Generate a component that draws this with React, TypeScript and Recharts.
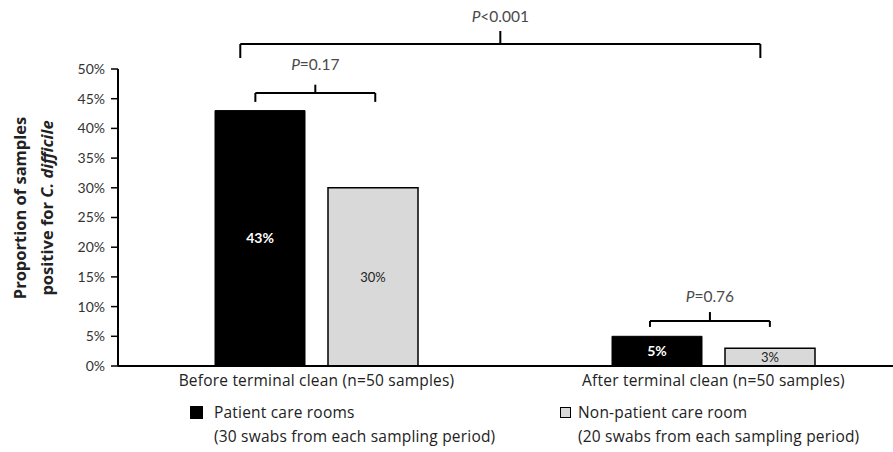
import React from 'react';
import { BarChart, Bar, XAxis, YAxis, ReferenceLine, ReferenceDot, LabelList } from 'recharts';

// values
const categories = ['Before terminal clean (n=50 samples)', 'After terminal clean (n=50 samples)'];
const patientCare = [43, 5];
const nonPatientCare = [30, 3];
const yTicks = [0, 5, 10, 15, 20, 25, 30, 35, 40, 45, 50];

// significance brackets: x as a fraction of the plot width (hidden 0..1 axis), y in %
const bracketText = ['<0.001', '=0.17', '=0.76'];
const bracketX1 = [0.154, 0.173, 0.67];
const bracketX2 = [0.809, 0.324, 0.821];
const bracketY = [54.2, 45.96, 7.58];
const bracketLeg = [2.35, 1.5, 1.0];
const bracketTick = [2.2, 1.4, 1.5];
const bracketTextY = [58.9, 50.8, 11.8];

const FONT = 'Lato, "Open Sans", sans-serif';
const FONT2 = '"Open Sans", Lato, sans-serif';

const data = categories.map((name, i) => ({
  name,
  patient: patientCare[i],
  nonPatient: nonPatientCare[i],
}));

const PLabel = (text: string) => (props: any) => {
  const vb = props.viewBox || {};
  const x = vb.x + (vb.width || 0) / 2;
  const y = vb.y + (vb.height || 0) / 2;
  return (
    <text x={x} y={y} textAnchor="middle" dominantBaseline="central" fontSize={15.5} fill="#4a4a4a" fontFamily={FONT}>
      <tspan fontStyle="italic">P</tspan>
      <tspan>{text}</tspan>
    </text>
  );
};

const YLabel = (props: any) => {
  const vb = props.viewBox || { x: 0, y: 69, height: 297 };
  const x1 = vb.x + 19;
  const x2 = vb.x + 46;
  const cy = 208;
  return (
    <g fontFamily={FONT2} fontSize={16.5} fontWeight="bold" fill="#222">
      <text x={x1} y={cy} textAnchor="middle" dominantBaseline="central" transform={`rotate(-90, ${x1}, ${cy})`}>
        Proportion of samples
      </text>
      <text x={x2} y={cy} textAnchor="middle" dominantBaseline="central" transform={`rotate(-90, ${x2}, ${cy})`}>
        positive for <tspan fontStyle="italic">C. difficile</tspan>
      </text>
    </g>
  );
};

export default function App() {
  return (
    <div style={{ position: 'absolute', left: 0, top: 0, width: 893, height: 452, overflow: 'hidden', background: '#fff', fontFamily: FONT2 }}>
      <BarChart
        width={915}
        height={452}
        data={data}
        margin={{ top: 69, right: 3, left: 0, bottom: 56 }}
        barCategoryGap={97}
        barGap={23}
      >
        <XAxis
          dataKey="name"
          axisLine={{ stroke: '#000', strokeWidth: 2 }}
          tickLine={false}
          interval={0}
          height={30}
          tick={{ fill: '#222', fontSize: 15.5, fontFamily: FONT2, letterSpacing: 0.2, dy: 1 }}
        />
        <XAxis xAxisId="num" type="number" domain={[0, 1]} allowDataOverflow hide />
        <YAxis
          domain={[0, 50]}
          ticks={yTicks}
          tickFormatter={(v: number) => `${v}%`}
          width={118}
          axisLine={{ stroke: '#000', strokeWidth: 2 }}
          tickLine={{ stroke: '#000', strokeWidth: 1.5 }}
          tickSize={7}
          tickMargin={6}
          tick={{ fill: '#333', fontSize: 14, fontFamily: FONT }}
          label={{ content: YLabel }}
        />
        <Bar dataKey="patient" fill="#000" stroke="#000" isAnimationActive={false}>
          <LabelList
            dataKey="patient"
            position="center"
            fill="#fff"
            fontWeight="bold"
            fontSize={14}
            fontFamily={FONT}
            formatter={(v: any) => `${v}%`}
          />
        </Bar>
        <Bar dataKey="nonPatient" fill="#d9d9d9" stroke="#000" strokeWidth={1.5} isAnimationActive={false}>
          <LabelList
            dataKey="nonPatient"
            position="center"
            fill="#222"
            fontSize={13}
            fontFamily={FONT}
            formatter={(v: any) => `${v}%`}
          />
        </Bar>
        {bracketText.map((t, i) => {
          const xm = (bracketX1[i] + bracketX2[i]) / 2;
          const segs = [
            [{ x: bracketX1[i], y: bracketY[i] }, { x: bracketX2[i], y: bracketY[i] }],
            [{ x: bracketX1[i], y: bracketY[i] }, { x: bracketX1[i], y: bracketY[i] - bracketLeg[i] }],
            [{ x: bracketX2[i], y: bracketY[i] }, { x: bracketX2[i], y: bracketY[i] - bracketLeg[i] }],
            [{ x: xm, y: bracketY[i] }, { x: xm, y: bracketY[i] + bracketTick[i] }],
          ];
          return (
            <React.Fragment key={t}>
              {segs.map((s, j) => (
                <ReferenceLine
                  key={`b${i}-${j}`}
                  xAxisId="num"
                  segment={s as any}
                  stroke="#000"
                  strokeWidth={2}
                  ifOverflow="visible"
                />
              ))}
              <ReferenceDot
                xAxisId="num"
                x={xm}
                y={bracketTextY[i]}
                r={0}
                fill="none"
                stroke="none"
                ifOverflow="visible"
                label={{ content: PLabel(t) }}
              />
            </React.Fragment>
          );
        })}
      </BarChart>
      <div style={{ position: 'absolute', left: 190, top: 400, fontSize: 15.5, letterSpacing: 0.2, color: '#222', lineHeight: '24px' }}>
        <div style={{ display: 'flex', alignItems: 'center' }}>
          <span style={{ display: 'inline-block', width: 13, height: 13, background: '#000', marginRight: 11 }} />
          Patient care rooms
        </div>
        <div style={{ paddingLeft: 24 }}>(30 swabs from each sampling period)</div>
      </div>
      <div style={{ position: 'absolute', left: 560, top: 400, fontSize: 15.5, letterSpacing: 0.2, color: '#222', lineHeight: '24px' }}>
        <div style={{ display: 'flex', alignItems: 'center' }}>
          <span style={{ display: 'inline-block', width: 9, height: 9, background: '#d9d9d9', border: '1.5px solid #000', marginRight: 7 }} />
          Non-patient care room
        </div>
        <div style={{ paddingLeft: 18 }}>(20 swabs from each sampling period)</div>
      </div>
    </div>
  );
}
